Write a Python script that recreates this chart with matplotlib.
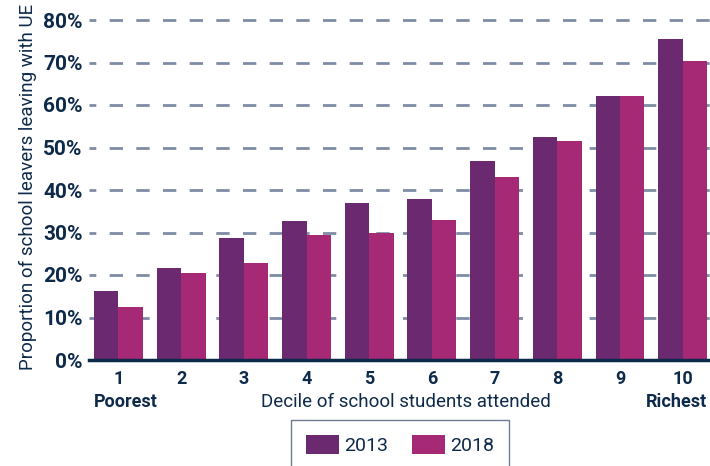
import matplotlib
matplotlib.use('Agg')
import matplotlib.pyplot as plt
import numpy as np

plt.rcParams['font.family'] = ['Roboto', 'DejaVu Sans']
plt.rcParams['lines.scale_dashes'] = False

# data
deciles = ['1', '2', '3', '4', '5', '6', '7', '8', '9', '10']
ue_2013 = [16.2, 21.6, 28.7, 32.7, 36.9, 37.9, 46.8, 52.5, 62.1, 75.5]
ue_2018 = [12.5, 20.5, 22.8, 29.4, 29.9, 32.9, 43.1, 51.5, 62.1, 70.4]
years = ['2013', '2018']
yticks = [0, 10, 20, 30, 40, 50, 60, 70, 80]

navy = '#0e2a4a'
col13 = '#6b2970'
col18 = '#a52974'
gridcol = '#7d8ca3'

fig = plt.figure(figsize=(7.10, 4.66), dpi=100)
ax = fig.add_axes([89/710, 1-360/466, 621/710, (360-15.75)/466])

x = np.arange(len(deciles))
w = 0.39
ax.bar(x - w/2, ue_2013, width=w, color=col13, label=years[0], zorder=2)
ax.bar(x + w/2, ue_2018, width=w, color=col18, label=years[1], zorder=2)

# dashed gridlines
for t in yticks[1:]:
    ax.axhline(t, color=gridcol, lw=2, linestyle=(4.7, (9.6, 9.6)), zorder=1)
ax.axhline(0, color=navy, lw=2.5, zorder=3, clip_on=False)

ax.set_xlim(-0.47, 9.435)
ax.set_ylim(0, 81)
ax.set_yticks(yticks)
ax.set_yticklabels([f'{t}%' for t in yticks])
ax.set_xticks(x)
ax.set_xticklabels(deciles)
for s in ax.spines.values():
    s.set_visible(False)
ax.tick_params(axis='both', length=0, colors=navy)
ax.tick_params(axis='y', pad=4.5, labelsize=15)
ax.tick_params(axis='x', pad=7, labelsize=13)
for lab in ax.get_xticklabels() + ax.get_yticklabels():
    lab.set_fontweight('bold')

ytxt = (360-402)/344.25
ax.text(-w, ytxt, 'Poorest', transform=ax.get_xaxis_transform(), ha='left', va='center',
        fontsize=13, fontweight='bold', color=navy)
ax.text(9 + w, ytxt, 'Richest', transform=ax.get_xaxis_transform(), ha='right', va='center',
        fontsize=13, fontweight='bold', color=navy)
ax.text((406-89)/621, ytxt, 'Decile of school students attended', transform=ax.transAxes,
        ha='center', va='center', fontsize=13.5, color=navy)
fig.text(28/710, 1-187/466, 'Proportion of school leavers leaving with UE', rotation=90,
         ha='center', va='center', fontsize=13.5, color=navy)

leg = fig.legend(loc='upper center', bbox_to_anchor=(400/710, 1-420/466), ncol=2,
                 fontsize=14, frameon=True, fancybox=False, borderaxespad=0,
                 handlelength=1.7, handleheight=1.13, handletextpad=0.25,
                 columnspacing=1.25, borderpad=0.75, labelcolor=navy)
leg.get_frame().set_edgecolor('#4a5a75')
leg.get_frame().set_linewidth(1)

fig.savefig('out.png', dpi=100)
